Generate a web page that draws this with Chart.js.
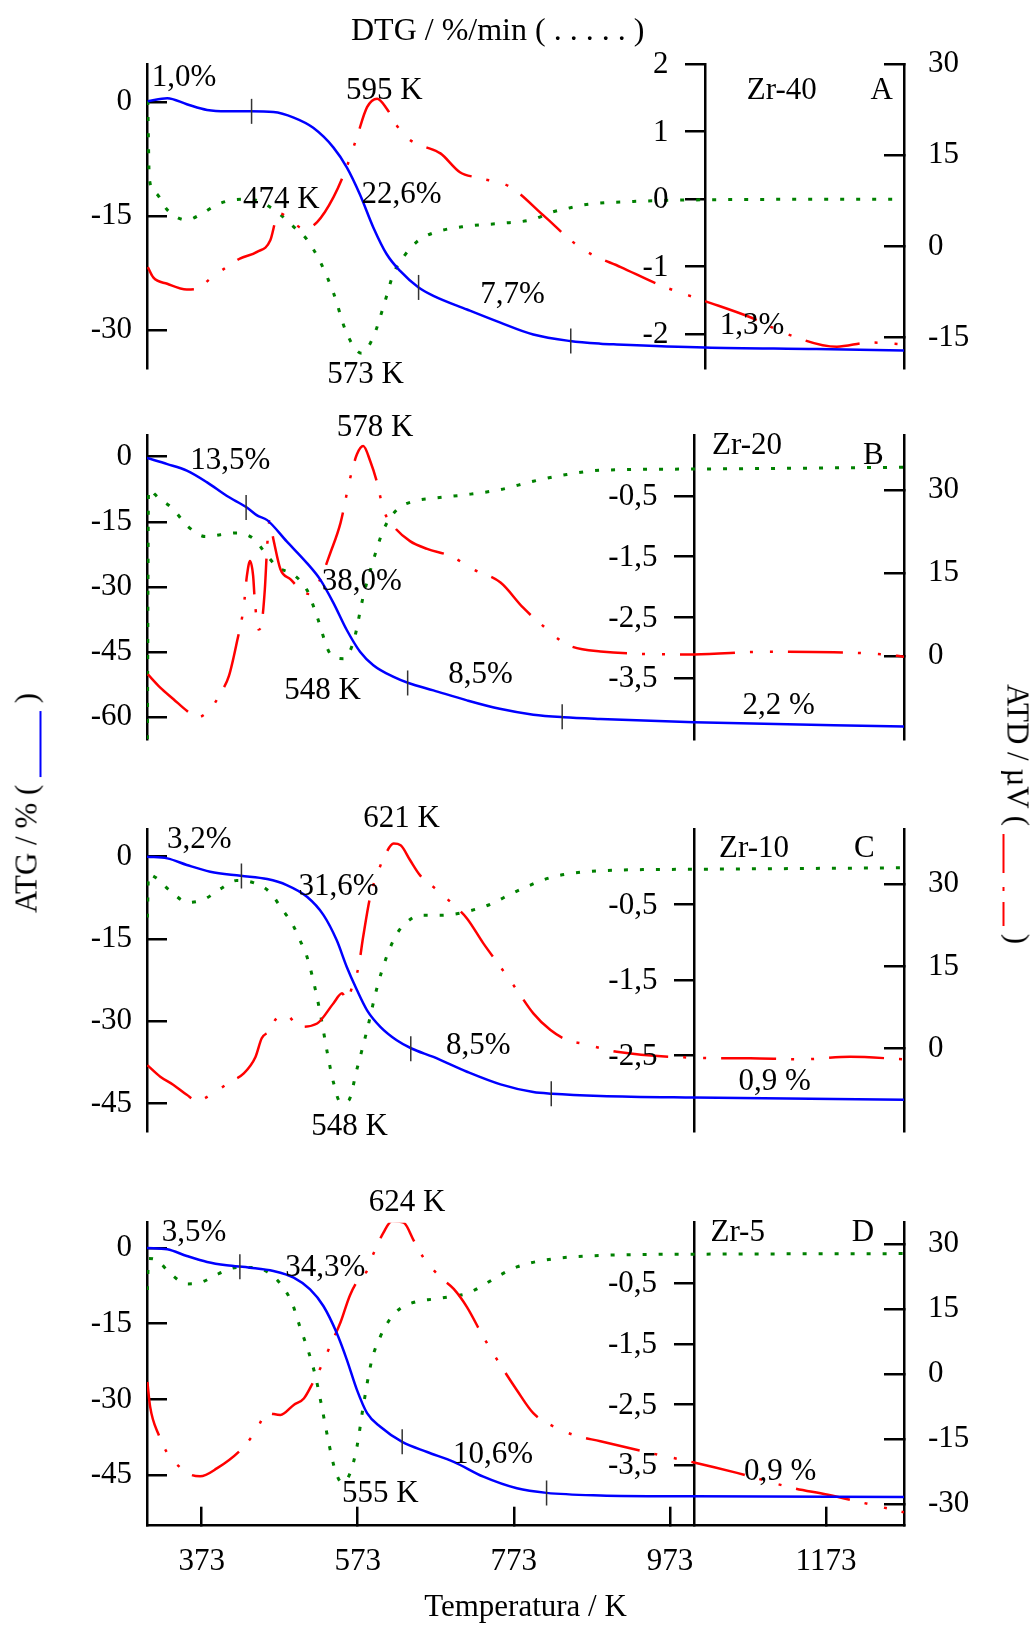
<!DOCTYPE html>
<html>
<head>
<meta charset="utf-8">
<script src="https://cdn.jsdelivr.net/npm/chart.js@4.4.1/dist/chart.umd.min.js"></script>
<style>
  body { margin: 0; background: #fff; }
  #page { position: relative; width: 1033px; height: 1626px; font-family: "Liberation Serif", "Times New Roman", serif; color: #000; overflow: hidden; }
  .slab { position: absolute; left: 0; width: 1033px; }
  .slab canvas { display: block; }
  .label { position: absolute; white-space: nowrap; font-size: 31px; line-height: 1; }
  .blank { display: inline-block; height: 2.5px; vertical-align: -5px; }
</style>
</head>
<body>
<div id="page">
  <div class="slab" style="top:0"><canvas id="chartA" width="1033" height="400"></canvas></div>
  <div class="slab" style="top:400px"><canvas id="chartB" width="1033" height="400"></canvas></div>
  <div class="slab" style="top:800px"><canvas id="chartC" width="1033" height="380"></canvas></div>
  <div class="slab" style="top:1180px"><canvas id="chartD" width="1033" height="446"></canvas></div>

  <div class="label" style="left:351px; top:13px; font-size:32px">DTG / %/min ( . . . . . )</div>
  <div class="label" style="left:26px; top:803px; transform: translate(-50%,-50%) rotate(-90deg)">ATG / % ( <span class="blank" style="width:66px; background:#0000ff"></span> )</div>
  <div class="label" style="left:1018px; top:814px; transform: translate(-50%,-50%) rotate(90deg)">ATD / µV ( <span class="blank" style="width:92px; background:linear-gradient(to right,#f00 0 42%,transparent 42% 58%,#f00 58% 62%,transparent 62% 74%,#f00 74% 100%)"></span> )</div>
</div>

<script>
// temperature ticks (K)
const xTicks = [373, 573, 773, 973, 1173];

// ---- Zr-40 (A) : [T / K, value]
const atgA = [[304,0.1],[329,0.5],[354,-0.3],[380,-1.05],[405,-1.23],[435,-1.23],[465,-1.32],[491,-2.06],[516,-3.4],[542,-6.0],[559,-8.6],[576,-12.2],[593,-16.5],[610,-20.0],[627,-22.2],[651,-24.4],[670,-25.5],[713,-27.3],[755,-29.0],[798,-30.6],[845,-31.45],[884,-31.8],[905,-31.9],[1018,-32.3],[1161,-32.5],[1273,-32.7]];
const dtgA = [[304,1.45],[306,0.3],[314,0.09],[329,-0.16],[354,-0.31],[371,-0.23],[393,-0.08],[414,-0.01],[435,0.0],[452,-0.06],[474,-0.23],[491,-0.41],[508,-0.6],[525,-0.93],[542,-1.39],[559,-1.99],[578,-2.28],[593,-2.04],[606,-1.59],[619,-1.1],[632,-0.85],[649,-0.63],[670,-0.5],[713,-0.4],[755,-0.36],[798,-0.3],[820,-0.2],[841,-0.14],[862,-0.085],[926,-0.035],[1018,-0.01],[1273,0.0]];
const atdA = [[304,-3.4],[311,-5.1],[329,-6.15],[354,-7.1],[367,-7.0],[384,-5.3],[405,-3.4],[422,-2.0],[444,-0.9],[461,1.0],[469,4.8],[474,5.4],[487,4.3],[504,2.9],[521,4.0],[542,8.1],[559,13.1],[572,18.0],[585,22.9],[598,24.3],[610,22.7],[623,19.9],[640,17.5],[657,16.5],[679,15.3],[704,12.2],[726,11.3],[768,9.8],[811,5.1],[849,0.7],[871,-1.2],[910,-3.4],[961,-6.4],[1016,-8.9],[1076,-11.65],[1123,-14.4],[1187,-16.5],[1229,-15.8],[1273,-16.1]];
const stepsA = [[437,-1.23],[651,-24.4],[846,-31.45]];
const atgTicksA = [0, -15, -30];
const dtgTicksA = [2, 1, 0, -1, -2];
const atdTicksA = [30, 15, 0, -15];

// ---- Zr-20 (B)
const atgB = [[303,-0.3],[329,-1.7],[354,-3.2],[380,-5.9],[405,-9.0],[431,-11.7],[444,-13.5],[457,-14.6],[482,-19.5],[508,-24.5],[525,-28.3],[542,-33.7],[559,-39.9],[576,-44.9],[593,-48.0],[619,-50.7],[638,-52.1],[670,-53.8],[713,-56.1],[755,-58.05],[798,-59.4],[837,-60.0],[884,-60.4],[1004,-61.15],[1273,-62.15]];
const dtgB = [[303.5,-4.5],[305,-0.4],[318,-0.54],[335,-0.7],[356,-1.01],[378,-1.17],[397,-1.14],[418,-1.11],[440,-1.21],[455,-1.45],[470,-1.67],[491,-1.8],[508,-2.05],[521,-2.49],[538,-3.1],[555,-3.18],[568,-2.88],[580,-2.16],[593,-1.56],[606,-1.06],[623,-0.73],[645,-0.59],[670,-0.54],[713,-0.48],[755,-0.4],[798,-0.26],[841,-0.15],[884,-0.08],[1004,-0.06],[1273,-0.03]];
const atdB = [[304,-3.3],[320,-5.7],[337,-7.8],[354,-9.9],[367,-11.1],[384,-9.6],[399,-6.3],[408,-3.6],[418,2.4],[427,9.0],[431,14.5],[435,17.2],[439,14.5],[441,10.3],[446,4.8],[450,6.0],[454,12.1],[457,19.9],[460,24.4],[465,21.1],[474,15.7],[487,13.9],[499,12.1],[512,11.2],[525,13.9],[538,18.7],[551,24.1],[563,32.0],[572,36.5],[580,38.0],[589,35.3],[598,31.3],[606,26.5],[619,23.5],[640,20.8],[662,19.4],[692,18.1],[721,15.7],[756,13.3],[785,8.75],[811,5.4],[841,2.1],[884,0.85],[1004,0.3],[1097,0.8],[1183,0.7],[1247,0.3],[1273,-0.1]];
const stepsB = [[430,-11.7],[637,-52.1],[835,-59.9]];
const atgTicksB = [0, -15, -30, -45, -60];
const dtgTicksB = [-0.5, -1.5, -2.5, -3.5];
const atdTicksB = [30, 15, 0];

// ---- Zr-10 (C)
const atgC = [[303,0],[329,-0.3],[354,-1.5],[384,-2.74],[423,-3.47],[457,-4.07],[482,-5.16],[508,-7.3],[529,-10.6],[546,-15.2],[559,-20.1],[572,-24.3],[585,-28.0],[602,-31.0],[623,-33.45],[642,-34.96],[670,-36.5],[713,-39.2],[756,-41.5],[798,-42.9],[822,-43.2],[884,-43.6],[1004,-43.9],[1273,-44.3]];
const dtgC = [[303.5,-0.67],[305,-0.1],[314,-0.14],[333,-0.32],[356,-0.47],[376,-0.43],[397,-0.29],[418,-0.18],[440,-0.21],[461,-0.34],[476,-0.56],[489,-0.75],[499,-0.97],[508,-1.19],[516,-1.5],[525,-1.94],[534,-2.46],[542,-2.86],[551,-3.12],[561,-3.1],[572,-2.68],[585,-2.16],[598,-1.59],[610,-1.19],[623,-0.89],[636,-0.73],[653,-0.64],[679,-0.64],[700,-0.62],[717,-0.58],[739,-0.51],[777,-0.32],[820,-0.14],[884,-0.05],[1004,-0.03],[1273,-0.01]];
const atdC = [[303.5,-3.0],[320,-5.1],[337,-6.6],[354,-8.4],[367,-9.5],[388,-8.1],[410,-6.0],[427,-4.5],[442,-1.5],[450,1.9],[461,3.4],[467,5.2],[480,6.3],[499,4.0],[521,4.6],[542,8.3],[553,10.1],[559,8.9],[566,11.3],[574,14.9],[580,20.4],[589,27.7],[600,32.6],[608,35.3],[619,37.4],[628,37.1],[640,34.4],[653,31.6],[675,28.9],[696,26.2],[713,23.75],[734,19.2],[756,14.9],[777,10.7],[798,6.45],[820,3.4],[841,1.6],[862,0.9],[884,0.1],[905,-0.55],[1004,-1.64],[1076,-1.75],[1144,-1.93],[1204,-1.46],[1273,-1.93]];
const stepsC = [[424,-3.5],[641,-35.0],[821,-43.2]];
const atgTicksC = [0, -15, -30, -45];
const dtgTicksC = [-0.5, -1.5, -2.5];
const atdTicksC = [30, 15, 0];

// ---- Zr-5 (D)
const atgD = [[303,0],[329,-0.26],[354,-1.59],[380,-2.78],[405,-3.44],[435,-3.9],[465,-4.57],[491,-5.88],[512,-8.21],[529,-11.5],[546,-16.8],[559,-22.1],[572,-28.1],[585,-32.7],[602,-35.4],[630,-38.4],[662,-40.4],[696,-42.35],[734,-45.3],[777,-47.6],[815,-48.5],[884,-49.0],[1004,-49.17],[1273,-49.3]];
const dtgD = [[303.5,-0.61],[305,-0.09],[316,-0.12],[333,-0.34],[354,-0.51],[371,-0.49],[395,-0.34],[418,-0.24],[435,-0.24],[457,-0.31],[476,-0.54],[489,-0.83],[499,-1.22],[510,-1.63],[519,-2.04],[527,-2.54],[536,-3.14],[544,-3.58],[553,-3.79],[563,-3.64],[572,-3.2],[580,-2.54],[591,-1.77],[602,-1.38],[615,-1.08],[628,-0.91],[649,-0.8],[670,-0.76],[692,-0.72],[713,-0.67],[734,-0.53],[756,-0.36],[777,-0.23],[811,-0.12],[884,-0.04],[1004,-0.02],[1273,-0.01]];
const atdD = [[303.5,-1.8],[307,-7.5],[318,-14.0],[329,-18.2],[344,-21.3],[359,-23.2],[371,-23.6],[393,-21.7],[423,-17.5],[442,-13.3],[457,-9.0],[474,-9.4],[491,-7.1],[504,-5.6],[516,-1.8],[527,2.1],[538,6.7],[551,12.0],[563,18.2],[576,22.4],[585,23.9],[593,27.75],[606,32.7],[617,35.4],[632,35.0],[645,30.8],[657,27.0],[679,22.4],[696,19.7],[713,15.5],[734,8.6],[756,2.1],[777,-3.7],[798,-9.0],[820,-11.7],[849,-14.0],[884,-15.5],[948,-18.2],[1004,-20.4],[1059,-22.8],[1131,-26.3],[1174,-27.8],[1230,-30.1],[1273,-31.9]];
const stepsD = [[422,-3.7],[630,-38.4],[815,-48.5]];
const atgTicksD = [0, -15, -30, -45];
const dtgTicksD = [-0.5, -1.5, -2.5, -3.5];
const atdTicksD = [30, 15, 0, -15, -30];

// annotations: text, T / K, ATG value of the baseline
const notesA = [['1,0%',309,2.1],['595 K',558,0.4],['474 K',426,-13.9],['22,6%',578,-13.25],['7,7%',730,-26.4],['573 K',534,-37.0],['1,3%',1037,-30.5],['Zr-40',1071.5,0.4],['A',1230,0.4]];
const notesB = [['578 K',546,4.86],['13,5%',358.5,-2.85],['38,0%',527,-30.65],['548 K',479,-55.7],['8,5%',689,-52.1],['Zr-20',1027,0.63],['B',1220.5,-1.7],['2,2 %',1066,-59.2]];
const notesC = [['621 K',580,5.36],['3,2%',328.6,1.53],['31,6%',497,-7.0],['8,5%',686,-36.0],['548 K',513.5,-50.8],['Zr-10',1036,-0.11],['C',1209,-0.11],['0,9 %',1061,-42.45]];
const notesD = [['624 K',587,7.36],['3,5%',322,1.39],['34,3%',480,-5.57],['10,6%',695,-42.66],['555 K',553,-50.3],['Zr-5',1025,1.39],['D',1206,1.39],['0,9 %',1068,-46.0]];

const FONT = { family: '"Liberation Serif", "Times New Roman", serif', size: 31 };
const CSS_FONT = '31px "Liberation Serif", "Times New Roman", serif';
const AXIS_W = 2.5;

const comma = v => String(v).replace('.', ',');

// free text labels and the labels of the inner DTG axis
const notePlugin = {
  id: 'notes',
  afterDatasetsDraw(chart, args, opts) {
    const { ctx, scales } = chart;
    ctx.save();
    ctx.font = CSS_FONT;
    ctx.fillStyle = '#000';
    ctx.textAlign = 'left';
    ctx.textBaseline = 'alphabetic';
    (opts.items || []).forEach(([text, t, v]) => {
      ctx.fillText(text, scales.x.getPixelForValue(t), scales.yAtg.getPixelForValue(v));
    });
    const axisX = scales.x.getPixelForValue(opts.dtgAt);
    ctx.textAlign = 'right';
    ctx.textBaseline = 'middle';
    (opts.dtgTicks || []).forEach(v => {
      ctx.fillText(comma(v), axisX - 37, scales.yDtg.getPixelForValue(v) + 1);
    });
    ctx.restore();
  }
};

const fixedTicks = values => scale => { scale.ticks = values.map(v => ({ value: v })); };
const noPad = s => { s.paddingTop = 0; s.paddingBottom = 0; s.paddingLeft = 0; s.paddingRight = 0; };

function drawPanel(p) {
  new Chart(document.getElementById(p.id), {
    type: 'line',
    data: {
      datasets: [
        { data: p.steps, yAxisID: 'yAtg', showLine: false, pointStyle: 'line', rotation: 90,
          pointRadius: 12.5, pointBorderWidth: 1.5, pointBorderColor: '#333' },
        { data: p.atg, yAxisID: 'yAtg', borderColor: '#0000ff', borderWidth: 2.5 },
        { data: p.atd, yAxisID: 'yAtd', borderColor: '#ff0000', borderWidth: 2.5, borderDash: [55, 15, 3, 17, 3, 15] },
        { data: p.dtg, yAxisID: 'yDtg', borderColor: '#008000', borderWidth: 3, borderDash: [4, 12] }
      ]
    },
    options: {
      responsive: false,
      animation: false,
      events: [],
      layout: { padding: { top: p.padTop, bottom: p.padBottom, left: 0, right: 0 } },
      elements: { point: { radius: 0 }, line: { cubicInterpolationMode: 'monotone' } },
      plugins: {
        legend: { display: false }, tooltip: { enabled: false },
        notes: { items: p.notes, dtgTicks: p.dtgTicks, dtgAt: p.dtgAt }
      },
      scales: {
        x: {
          type: 'linear', position: 'bottom', min: 303, max: 1273, display: p.showX,
          afterBuildTicks: fixedTicks(xTicks),
          afterFit: s => { noPad(s); if (p.showX) s.height = 1626 - 1525.7; },
          grid: { drawOnChartArea: false, tickLength: -19, color: '#000', lineWidth: AXIS_W },
          border: { color: '#000', width: AXIS_W },
          ticks: { font: FONT, color: '#000', padding: 37, maxRotation: 0, autoSkip: false, callback: v => String(v) },
          title: { display: true, text: 'Temperatura / K', font: FONT, color: '#000', padding: 0 }
        },
        yAtg: {
          position: 'left', min: p.atgRange[0], max: p.atgRange[1],
          afterBuildTicks: fixedTicks(p.atgTicks),
          afterFit: s => { noPad(s); s.width = 147; },
          grid: { drawOnChartArea: false, tickLength: -20, color: '#000', lineWidth: AXIS_W },
          border: { color: '#000', width: AXIS_W },
          ticks: { font: FONT, color: '#000', padding: 35, callback: comma }
        },
        yAtd: {
          position: 'right', min: p.atdRange[0], max: p.atdRange[1],
          afterBuildTicks: fixedTicks(p.atdTicks),
          afterFit: s => { noPad(s); s.width = 1033 - 904; },
          grid: { drawOnChartArea: false, tickLength: -20, color: '#000', lineWidth: AXIS_W },
          border: { color: '#000', width: AXIS_W },
          ticks: { font: FONT, color: '#000', padding: 44, callback: comma }
        },
        yDtg: {
          position: { x: p.dtgAt }, min: p.dtgRange[0], max: p.dtgRange[1],
          afterBuildTicks: fixedTicks(p.dtgTicks),
          afterFit: noPad,
          grid: { drawOnChartArea: false, tickLength: 19, color: '#000', lineWidth: AXIS_W },
          border: { color: '#000', width: AXIS_W },
          ticks: { display: false }
        }
      }
    },
    plugins: [notePlugin]
  });
}

drawPanel({ id: 'chartA', padTop: 64, padBottom: 32, showX: false, dtgAt: 1018.5,
  atg: atgA, dtg: dtgA, atd: atdA, steps: stepsA, notes: notesA,
  atgRange: [-35, 5], dtgRange: [-2.5, 2], atdRange: [-20, 30],
  atgTicks: atgTicksA, dtgTicks: dtgTicksA, atdTicks: atdTicksA });
drawPanel({ id: 'chartB', padTop: 35, padBottom: 61, showX: false, dtgAt: 1004.4,
  atg: atgB, dtg: dtgB, atd: atdB, steps: stepsB, notes: notesB,
  atgRange: [-65, 5], dtgRange: [-4.5, 0.5], atdRange: [-15, 40],
  atgTicks: atgTicksB, dtgTicks: dtgTicksB, atdTicks: atdTicksB });
drawPanel({ id: 'chartC', padTop: 29.3, padBottom: 49, showX: false, dtgAt: 1004.4,
  atg: atgC, dtg: dtgC, atd: atdC, steps: stepsC, notes: notesC,
  atgRange: [-50, 5], dtgRange: [-3.5, 0.5], atdRange: [-15, 40],
  atgTicks: atgTicksC, dtgTicks: dtgTicksC, atdTicks: atdTicksC });
drawPanel({ id: 'chartD', padTop: 42.7, padBottom: 0, showX: true, dtgAt: 1004,
  atg: atgD, dtg: dtgD, atd: atdD, steps: stepsD, notes: notesD,
  atgRange: [-55, 5], dtgRange: [-4.5, 0.5], atdRange: [-35, 35],
  atgTicks: atgTicksD, dtgTicks: dtgTicksD, atdTicks: atdTicksD });
</script>
</body>
</html>
